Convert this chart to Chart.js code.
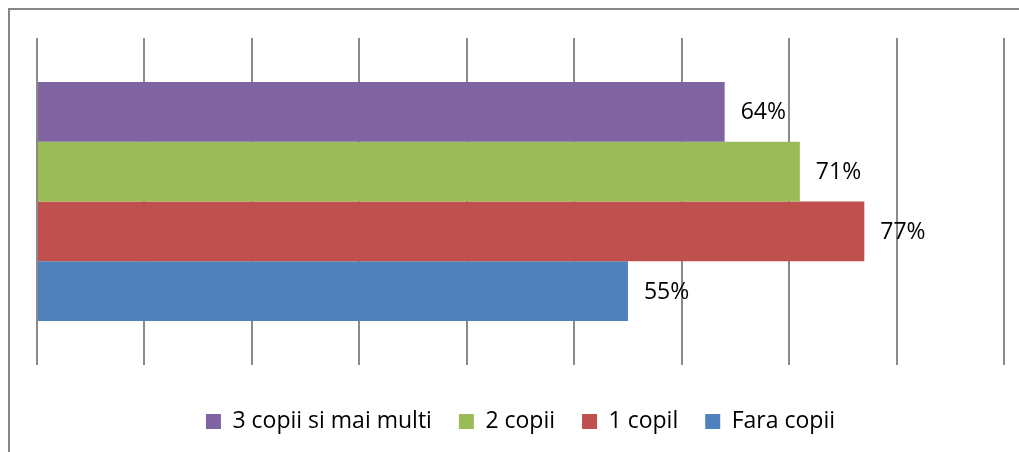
<!DOCTYPE html>
<html>
<head>
<meta charset="utf-8">
<script src="https://cdn.jsdelivr.net/npm/chart.js@4"></script>
<style>
  html, body { margin: 0; padding: 0; background: #fff; }
  #wrap { width: 1019px; height: 452px; }
</style>
</head>
<body>
<div id="wrap"><canvas id="chart-1" width="1019" height="452"></canvas></div>
<script>
const categories = [""];
const seriesNames = ["3 copii si mai multi", "2 copii", "1 copil", "Fara copii"];
const seriesValues = [[64], [71], [77], [55]];
const seriesColors = ["#8064A2", "#9BBB59", "#C0504D", "#4F81BD"];
const xTicks = [0, 10, 20, 30, 40, 50, 60, 70, 80, 90];

const FONT = "'Open Sans', 'Liberation Sans', sans-serif";

// outer frame, cut off on the right and bottom like the original
const framePlugin = {
  id: "frame",
  beforeDraw(chart) {
    const c = chart.ctx;
    c.save();
    c.fillStyle = "#fff";
    c.fillRect(0, 0, chart.width, chart.height);
    c.strokeStyle = "#868686";
    c.lineWidth = 2;
    c.strokeRect(9, 9, 1100, 600);
    c.restore();
  }
};

// value labels to the right of each bar
const valueLabels = {
  id: "valueLabels",
  afterDatasetsDraw(chart) {
    const c = chart.ctx;
    c.save();
    c.font = "23px " + FONT;
    c.fillStyle = "#000";
    c.textAlign = "left";
    c.textBaseline = "middle";
    chart.data.datasets.forEach((ds, i) => {
      chart.getDatasetMeta(i).data.forEach((bar, j) => {
        c.fillText(ds.data[j] + "%", bar.x + 16, bar.y + 1);
      });
    });
    c.restore();
  }
};

const ctx1 = document.getElementById("chart-1").getContext("2d");
const myChart = new Chart(ctx1, {
  type: "bar",
  data: {
    labels: categories,
    datasets: seriesNames.map((name, i) => ({
      label: name,
      data: seriesValues[i],
      backgroundColor: seriesColors[i],
      borderWidth: 0,
      categoryPercentage: 0.731,
      barPercentage: 1,
    })),
  },
  options: {
    indexAxis: "y",
    responsive: false,
    animation: false,
    layout: { padding: { left: 37, right: 15, top: 38, bottom: 9 } },
    scales: {
      x: {
        min: 0,
        max: 90,
        afterBuildTicks: (scale) => { scale.ticks = xTicks.map((v) => ({ value: v })); },
        ticks: { display: false },
        grid: { color: "#8a8a8a", lineWidth: 2, drawTicks: false },
        border: { display: false },
        afterFit: (scale) => { scale.height = 18; },
      },
      y: { display: false },
    },
    plugins: {
      legend: {
        position: "bottom",
        labels: {
          font: { family: FONT, size: 23 },
          color: "#000",
          boxWidth: 15,
          boxHeight: 15,
          padding: 27,
        },
      },
      tooltip: { enabled: false },
    },
  },
  plugins: [framePlugin, valueLabels],
});
</script>
</body>
</html>
